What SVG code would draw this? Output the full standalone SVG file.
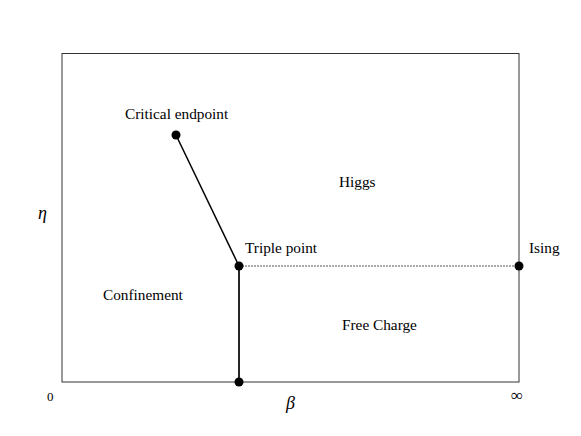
<svg xmlns="http://www.w3.org/2000/svg" width="581" height="436" viewBox="0 0 581 436">
<style>
text{font-family:"Liberation Serif","DejaVu Serif",serif;font-size:15.3px;fill:#000}
.it{font-style:italic;font-size:18px}
.dot{fill:#000}
</style>
<rect width="581" height="436" fill="#fff"/>
<g id="frame"><rect x="62" y="53.5" width="457" height="328.5" fill="none" stroke="#333" stroke-width="1"/></g>
<g id="connectors">
<line x1="176" y1="135" x2="239" y2="266" stroke="#000" stroke-width="1.5"/>
<line x1="239" y1="266" x2="239" y2="382" stroke="#000" stroke-width="1.7"/>
<line x1="239" y1="266" x2="519" y2="266" stroke="#555" stroke-width="1" stroke-dasharray="2,1"/>
</g>
<g id="critical"><circle class="dot" cx="176" cy="135" r="4.5"/><text x="125" y="119">Critical endpoint</text></g>
<g id="triple"><circle class="dot" cx="239" cy="266" r="4.5"/><text x="245" y="253">Triple point</text></g>
<g id="ising"><circle class="dot" cx="519" cy="266" r="4.5"/><text x="529" y="253">Ising</text></g>
<g id="bottom"><circle class="dot" cx="239" cy="382" r="4.5"/></g>
<g id="labels">
<text x="339" y="187">Higgs</text>
<text x="103" y="300">Confinement</text>
<text x="342" y="330">Free Charge</text>
<text class="it" x="38" y="219">η</text>
<text x="47" y="401" style="font-size:13px">0</text>
<text class="it" x="286" y="409">β</text>
<text x="511" y="401" style="font-size:17px">∞</text>
</g>
</svg>
